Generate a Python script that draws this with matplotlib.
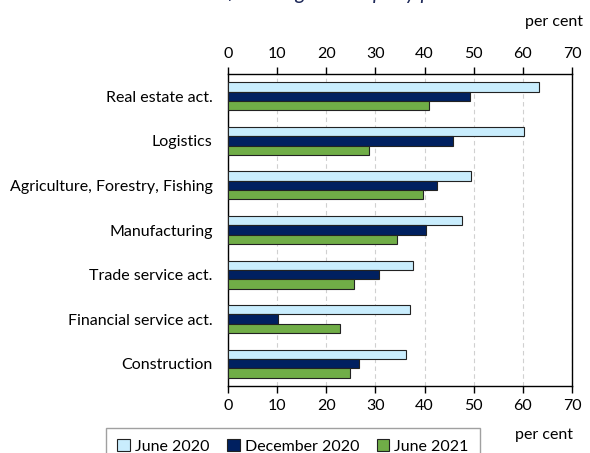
import matplotlib.pyplot as plt
import numpy as np
from matplotlib.patches import Patch

plt.rcParams['font.family'] = ['Lato', 'DejaVu Sans']

# data (per cent)
sectors = ['Real estate act.', 'Logistics', 'Agriculture, Forestry, Fishing',
           'Manufacturing', 'Trade service act.', 'Financial service act.',
           'Construction']
june_2020 = [63.3, 60.3, 49.4, 47.7, 37.6, 37.0, 36.3]
dec_2020 = [49.3, 45.7, 42.5, 40.2, 30.7, 10.2, 26.7]
june_2021 = [41.0, 28.7, 39.7, 34.3, 25.6, 22.8, 24.8]
series_names = ['June 2020', 'December 2020', 'June 2021']
colors = ['#C9EDFD', '#002060', '#70AD47']
xticks = [0, 10, 20, 30, 40, 50, 60, 70]

fs = 11.5

fig = plt.figure(figsize=(5.9, 4.53), dpi=100)
ax = fig.add_axes([228 / 590, 1 - 386 / 453, 344 / 590, 312 / 453])

y = np.arange(len(sectors))
h = 0.21
for k, vals in enumerate([june_2020, dec_2020, june_2021]):
    ax.barh(y + (k - 1) * h, vals, height=h, color=colors[k],
            edgecolor='#222222', linewidth=0.8, zorder=3)

ax.set_ylim(len(sectors) - 0.5, -0.5)
ax.set_xlim(0, 70)
ax.set_yticks(y)
ax.set_yticklabels(sectors, fontsize=fs)
ax.set_xticks(xticks)
ax.tick_params(axis='y', length=0, pad=11)
ax.tick_params(axis='x', top=True, labeltop=True, direction='out',
               length=5, width=1, labelsize=fs, pad=4)
ax.xaxis.grid(True, linestyle=(0, (4, 3)), color='#d0d0d0', linewidth=0.8, zorder=0)
for s in ax.spines.values():
    s.set_color('black')
    s.set_linewidth(1)

fig.text(583 / 590, 1 - 22 / 453, 'per cent', ha='right', va='center', fontsize=fs)
fig.text(573 / 590, 1 - 435 / 453, 'per cent', ha='right', va='center', fontsize=fs)

# title, mostly cut off at the top of the picture
fig.text(335 / 590, 1 + 1 / 453, 'Share of the largest company per sector',
         ha='center', va='baseline', fontsize=15, style='italic', color='#1f2a5a')

handles = [Patch(facecolor=c, edgecolor='#222222', linewidth=0.8) for c in colors]
fig.legend(handles, series_names, loc='upper center', ncol=3,
           bbox_to_anchor=(293 / 590, 1 - 428 / 453), fontsize=fs,
           frameon=True, fancybox=False, edgecolor='#888888',
           handlelength=0.8, handleheight=0.8, handletextpad=0.3,
           columnspacing=1.1, borderpad=0.7, borderaxespad=0)

fig.savefig('out.png', dpi=100)
